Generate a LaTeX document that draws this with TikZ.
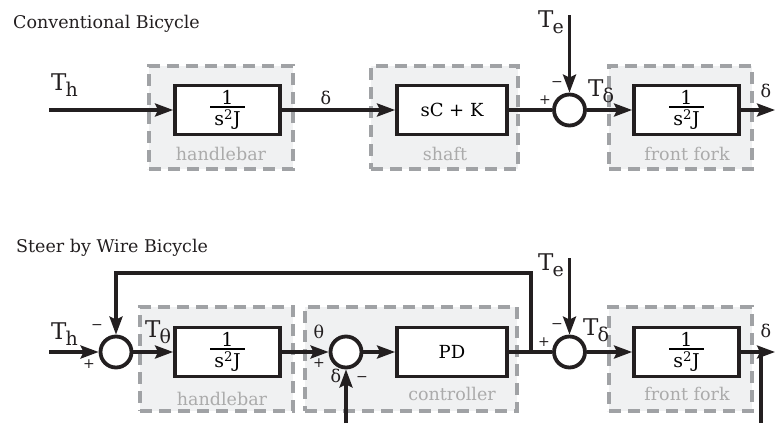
\documentclass[tikz,border=0pt]{standalone}
\usepackage{fontspec}
\setmainfont{DejaVu Serif}
\usetikzlibrary{arrows.meta}

\definecolor{ink}{HTML}{231F20}
\definecolor{grpfill}{HTML}{F0F1F2}
\definecolor{grpline}{HTML}{A0A2A5}
\definecolor{grptext}{HTML}{ABABAB}

% T with a lowered index, and the 1/(s^2 J) block text
\newcommand{\Tsub}[1]{{\fontsize{23}{23}\selectfont T}\kern-1pt\raisebox{-6pt}{\fontsize{19}{19}\selectfont #1}}
\newcommand{\invsJ}{{\fontsize{19}{21}\selectfont${\mbox{1}\above1.6pt\makebox[35pt]{s\textsuperscript{2}J}}$}}

\begin{document}
\begin{tikzpicture}[x=1pt, y=-1pt,
    wire/.style={draw=ink, line width=3.2pt},
    arr/.style={wire, -{Stealth[length=18pt, width=13pt, inset=3pt]}},
    block/.style={draw=ink, fill=white, line width=3.8pt, minimum height=49pt, inner sep=0pt, font=\fontsize{18}{20}\selectfont},
    sumnode/.style={circle, draw=ink, fill=white, line width=3.8pt, minimum size=31pt, inner sep=0pt},
    group/.style={draw=grpline, fill=grpfill, line width=3.2pt, dash pattern=on 12pt off 7pt, inner sep=0pt, minimum height=103pt},
    grplbl/.style={text=grptext, inner sep=0pt, font=\fontsize{17.5}{20}\selectfont},
    lbl/.style={text=ink, inner sep=0pt, font=\fontsize{17.5}{20}\selectfont},
    sgn/.style={text=ink, inner sep=0pt, font=\fontsize{14}{14}\selectfont}]
    \useasboundingbox (0,0) rectangle (775,423);

    % ---- Conventional Bicycle ----
    \node[lbl, anchor=base west] (titleA) at (13,28) {Conventional Bicycle};

    % groups
    \node[group, minimum width=144pt] (gHbA) at (221,117.5) {};
    \node[group, minimum width=147pt] (gShA) at (444.5,117.5) {};
    \node[group, minimum width=143pt] (gFfA) at (680.5,117.5) {};
    \node[grplbl, anchor=base] at (221,160) {handlebar};
    \node[grplbl, anchor=base] at (445,160) {shaft};
    \node[grplbl, anchor=base] at (687,160) {front fork};

    % blocks
    \node[block, minimum width=105pt] (hbA) at (227.5,110) {\invsJ};
    \node[block, minimum width=110pt] (shA) at (452,110) {sC + K};
    \node[sumnode] (sA) at (569.5,110) {};
    \node[block, minimum width=105pt] (ffA) at (686.5,110) {\invsJ};

    % free ends
    \coordinate (inA) at (49,110);
    \coordinate (teA) at (569.5,15);
    \coordinate (outA) at (775,110);

    % connectors
    \draw[arr] (inA) -- (hbA);
    \draw[arr] (hbA) -- (shA);
    \draw[wire] (shA) -- (sA);
    \draw[arr] (teA) -- (sA);
    \draw[arr] (sA) -- (ffA);
    \draw[arr] (ffA) -- (outA);

    % signals
    \node[lbl, anchor=base west] at (51,90) {\Tsub{h}};
    \node[lbl, anchor=base] at (326,104) {δ};
    \node[lbl, anchor=base west] at (538,27) {\Tsub{e}};
    \node[sgn] at (557,84) {−};
    \node[sgn] at (545,100) {+};
    \node[lbl, anchor=base west] at (588,96) {\Tsub{δ}};
    \node[lbl, anchor=base] at (766,97) {δ};

    % ---- Steer by Wire Bicycle ----
    \node[lbl, anchor=base west] (titleB) at (16,252) {Steer by Wire Bicycle};

    % groups
    \node[group, minimum width=153pt, minimum height=104pt] (gHbB) at (216.5,359) {};
    \node[group, minimum width=212pt, minimum height=104pt] (gCtB) at (411,359) {};
    \node[group, minimum width=143pt, minimum height=104pt] (gFfB) at (680.5,359) {};
    \node[grplbl, anchor=base] at (222,405) {handlebar};
    \node[grplbl, anchor=base] at (452,400) {controller};
    \node[grplbl, anchor=base] at (687,400) {front fork};

    % blocks
    \node[sumnode] (sB1) at (116,352) {};
    \node[block, minimum width=105pt] (hbB) at (227.5,352) {\invsJ};
    \node[sumnode] (sB2) at (346,352) {};
    \node[block, minimum width=110pt] (pd) at (452,352) {PD};
    \node[sumnode] (sB3) at (569.5,352) {};
    \node[block, minimum width=105pt] (ffB) at (686.5,352) {\invsJ};

    % free ends
    \coordinate (inB) at (49,352);
    \coordinate (fbJ) at (531,352);
    \coordinate (fbTop) at (531,273);
    \coordinate (dIn) at (346,423);
    \coordinate (teB) at (569.5,258);
    \coordinate (outB) at (775,352);
    \coordinate (tap) at (761,352);
    \coordinate (tapEnd) at (761,423);

    % connectors
    \draw[arr] (inB) -- (sB1);
    \draw[arr] (sB1) -- (hbB);
    \draw[arr] (hbB) -- (sB2);
    \draw[arr] (dIn) -- (sB2);
    \draw[arr] (sB2) -- (pd);
    \draw[wire] (pd) -- (sB3);
    \draw[arr] (fbJ) -- (fbTop) -| (sB1);
    \draw[arr] (teB) -- (sB3);
    \draw[arr] (sB3) -- (ffB);
    \draw[arr] (ffB) -- (outB);
    \draw[wire] (tap) -- (tapEnd);

    % signals
    \node[lbl, anchor=base west] at (51,339) {\Tsub{h}};
    \node[sgn] at (97,327) {−};
    \node[sgn] at (89,364) {+};
    \node[lbl, anchor=base west] at (145,337) {\Tsub{θ}};
    \node[lbl, anchor=base] at (319,338) {θ};
    \node[sgn] at (319,363) {+};
    \node[lbl, anchor=base] at (336,382) {δ};
    \node[sgn] at (362,379) {−};
    \node[lbl, anchor=base west] at (538,270) {\Tsub{e}};
    \node[sgn] at (557,326) {−};
    \node[sgn] at (544,342) {+};
    \node[lbl, anchor=base west] at (583,335) {\Tsub{δ}};
    \node[lbl, anchor=base] at (766,337) {δ};
\end{tikzpicture}
\end{document}
